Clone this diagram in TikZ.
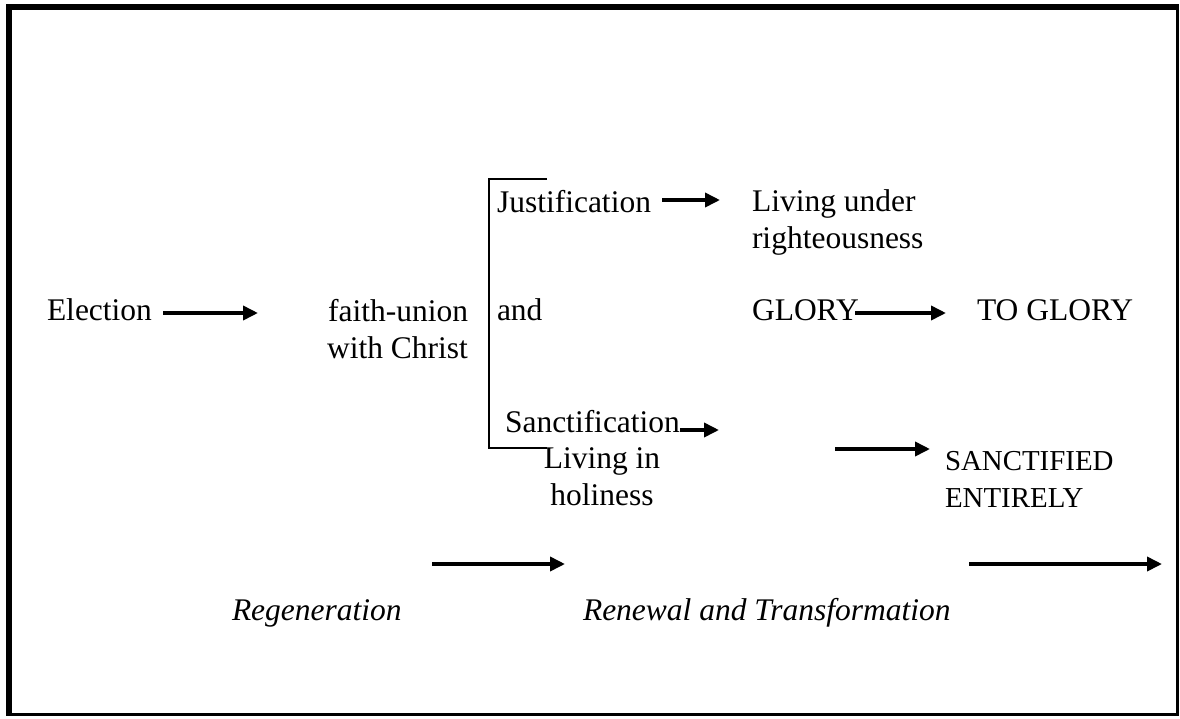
\documentclass[tikz,border=0pt]{standalone}
\usepackage{fontspec}
\setmainfont{Liberation Serif}
\usetikzlibrary{arrows.meta}
\tikzset{
  txt/.style={inner sep=0pt, outer sep=0pt, font=\fontsize{31.5}{37}\selectfont},
  smalltxt/.style={inner sep=0pt, outer sep=0pt, font=\fontsize{28.9}{37}\selectfont},
  itxt/.style={inner sep=0pt, outer sep=0pt, font=\fontsize{31.5}{37}\selectfont\itshape},
  arr/.style={line width=3.6pt, -{Triangle[length=15pt,width=14pt]}},
  brk/.style={line width=1.6pt},
}
\begin{document}
\begin{tikzpicture}[x=1pt,y=-1pt]
\useasboundingbox (0,0) rectangle (1180,718);
% frame
\draw[line width=6pt] (6,7) -- (1179,7);
\draw[line width=6pt] (9,4) -- (9,716);
\draw[line width=2.5pt] (1177.5,4) -- (1177.5,715.5);
\draw[line width=2.5pt] (6,714.5) -- (1179,714.5);

% texts (multi-line nodes: base anchor = last line's baseline)
\node[txt, anchor=base west] (elect) at (47,320) {Election};
\node[txt, anchor=base east, align=right] (faith) at (468,358) {faith-union\\with Christ};
\node[txt, anchor=base west] (just) at (497,212) {Justification};
\node[txt, anchor=base west] (and) at (497,320) {and};
\node[txt, anchor=base west] (sanct) at (505,432) {Sanctification};
\node[txt, anchor=base, align=center] (livin) at (602,505) {Living in\\holiness};
\node[txt, anchor=base west, align=left] (livund) at (752,248) {Living under\\righteousness};
\node[txt, anchor=base west] (glory) at (752,320) {GLORY};
\node[txt, anchor=base west] (toglory) at (977,320) {TO GLORY};
\node[smalltxt, anchor=base west, align=left] (sentire) at (945,507) {SANCTIFIED\\ENTIRELY};
\node[itxt, anchor=base west] (regen) at (232,620) {Regeneration};
\node[itxt, anchor=base west] (renew) at (583,620) {Renewal and Transformation};

% bracket
\coordinate (bt) at (547,179);
\coordinate (btl) at (489,179);
\coordinate (bbl) at (489,448);
\coordinate (bb) at (547,448);
\draw[brk] (bt) -- (btl) -- (bbl) -- (bb);

% arrow end points
\coordinate (a1s) at (163,313);  \coordinate (a1e) at (258,313);
\coordinate (a2s) at (662,200);  \coordinate (a2e) at (720,200);
\coordinate (a3s) at (855,313);  \coordinate (a3e) at (946,313);
\coordinate (a4s) at (680,430);  \coordinate (a4e) at (719,430);
\coordinate (a5s) at (835,449);  \coordinate (a5e) at (930,449);
\coordinate (a6s) at (432,564);  \coordinate (a6e) at (565,564);
\coordinate (a7s) at (969,564);  \coordinate (a7e) at (1162,564);

\draw[arr] (a1s) -- (a1e);
\draw[arr] (a2s) -- (a2e);
\draw[arr] (a3s) -- (a3e);
\draw[arr] (a4s) -- (a4e);
\draw[arr] (a5s) -- (a5e);
\draw[arr] (a6s) -- (a6e);
\draw[arr] (a7s) -- (a7e);
\end{tikzpicture}
\end{document}
